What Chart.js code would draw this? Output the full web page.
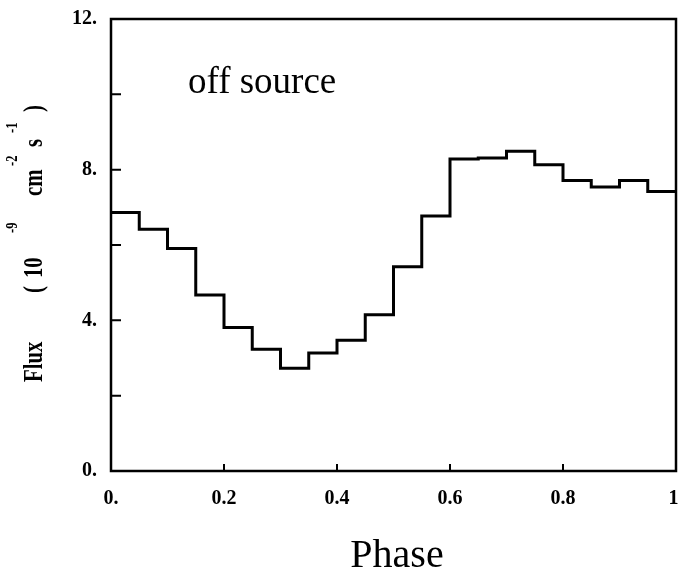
<!DOCTYPE html>
<html>
<head>
<meta charset="utf-8">
<script src="https://cdn.jsdelivr.net/npm/chart.js@4"></script>
<style>
  body { margin: 0; background: #fff; }
  canvas { display: block; }
</style>
</head>
<body>
<canvas id="fluxChart" width="678" height="576"></canvas>
<script>
// bin start phases (bin width 0.05) and flux per bin
const phaseBins = [0, 0.05, 0.10, 0.15, 0.20, 0.25, 0.30, 0.35, 0.40, 0.45,
                   0.50, 0.55, 0.60, 0.65, 0.70, 0.75, 0.80, 0.85, 0.90, 0.95];
const fluxValues = [6.86, 6.42, 5.91, 4.67, 3.81, 3.23, 2.73, 3.13, 3.47, 4.15,
                    5.42, 6.77, 8.28, 8.31, 8.49, 8.13, 7.71, 7.54, 7.71, 7.42];
const phaseEnd = 1.0;
const yTickValues = [2, 4, 6, 8, 10];
const xTickValues = [0.2, 0.4, 0.6, 0.8];

const points = phaseBins.map((p, i) => ({ x: p, y: fluxValues[i] }));
points.push({ x: phaseEnd, y: fluxValues[fluxValues.length - 1] });

const SERIF = '"Liberation Serif", "Times New Roman", serif';

// frame, inward ticks and the free text
const decorations = {
    id: 'decorations',
    afterDraw(chart) {
        const ctx = chart.ctx;
        const area = chart.chartArea;
        const xs = chart.scales.x, ys = chart.scales.y;
        ctx.save();
        ctx.strokeStyle = '#000';
        ctx.lineWidth = 2.5;
        ctx.strokeRect(area.left, area.top, area.right - area.left, area.bottom - area.top);

        ctx.lineWidth = 2;
        ctx.beginPath();
        yTickValues.forEach(v => {
            const y = ys.getPixelForValue(v);
            ctx.moveTo(area.left, y);
            ctx.lineTo(area.left + 10, y);
        });
        xTickValues.forEach(v => {
            const x = xs.getPixelForValue(v);
            ctx.moveTo(x, area.bottom);
            ctx.lineTo(x, area.bottom - 7);
        });
        ctx.stroke();

        ctx.fillStyle = '#000';
        ctx.textBaseline = 'alphabetic';
        ctx.textAlign = 'left';
        ctx.font = '37px ' + SERIF;
        ctx.fillText('off source', 188, 93);

        ctx.textAlign = 'center';
        ctx.font = '40px ' + SERIF;
        ctx.fillText('Phase', 397, 567);

        // rotated y title with superscripts
        ctx.translate(42, 382);
        ctx.rotate(-Math.PI / 2);
        ctx.textAlign = 'left';
        const sx = 0.74;
        const main = [['Flux', 0], ['(', 89], ['10', 104], ['cm', 186], ['s', 235], [')', 270]];
        const sup = [['-9', 149], ['-2', 216], ['-1', 249]];
        ctx.scale(sx, 1);
        ctx.font = 'bold 28px ' + SERIF;
        main.forEach(([t, pos]) => ctx.fillText(t, pos / sx, 0));
        ctx.font = 'bold 17px ' + SERIF;
        sup.forEach(([t, pos]) => ctx.fillText(t, pos / sx, -25));
        ctx.restore();
    }
};

const fluxChart = new Chart(document.getElementById('fluxChart'), {
    type: 'line',
    data: {
        datasets: [{
            label: 'Flux',
            data: points,
            stepped: 'before',
            borderColor: '#000',
            borderWidth: 3,
            pointRadius: 0,
            fill: false
        }]
    },
    options: {
        responsive: false,
        animation: false,
        devicePixelRatio: 1,
        layout: { autoPadding: false, padding: { top: 19, right: 2, left: 0, bottom: 0 } },
        plugins: { legend: { display: false }, tooltip: { enabled: false } },
        scales: {
            x: {
                type: 'linear',
                min: 0,
                max: 1,
                grid: { display: false },
                border: { display: false },
                afterFit: s => { s.height = 105; s.paddingLeft = 0; s.paddingRight = 0; },
                ticks: {
                    stepSize: 0.2,
                    padding: 8,
                    color: '#000',
                    maxRotation: 0,
                    font: { family: SERIF, size: 20, weight: 'bold' },
                    callback: v => (v === 0 ? '0.' : v === 1 ? '1.' : v.toFixed(1))
                }
            },
            y: {
                min: 0,
                max: 12,
                grid: { display: false },
                border: { display: false },
                afterFit: s => { s.width = 111; s.paddingTop = 0; s.paddingBottom = 0; },
                ticks: {
                    stepSize: 2,
                    padding: 6,
                    color: '#000',
                    font: { family: SERIF, size: 20, weight: 'bold' },
                    callback: v => (v % 4 === 0 ? v + '.' : '')
                }
            }
        }
    },
    plugins: [decorations]
});
</script>
</body>
</html>
